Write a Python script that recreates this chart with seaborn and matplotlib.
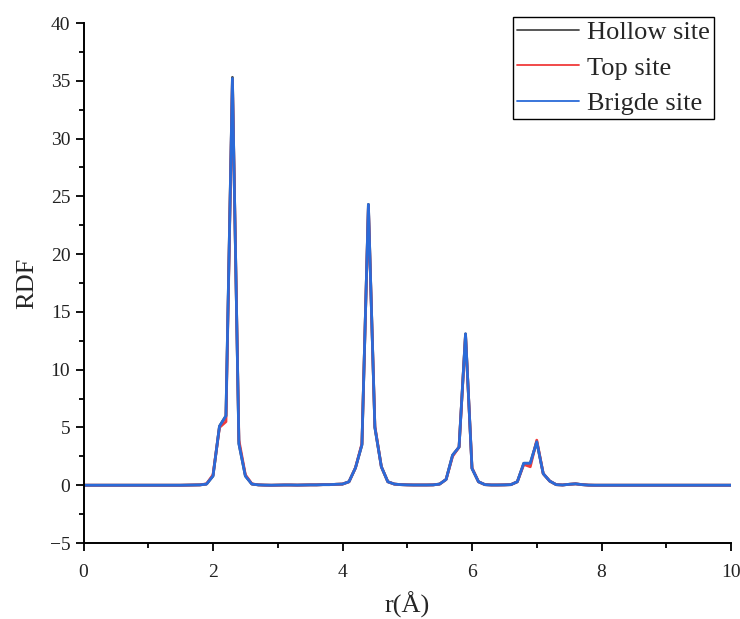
import numpy as np
import pandas as pd
import matplotlib
matplotlib.use("Agg")
import matplotlib.pyplot as plt
import seaborn as sns
from matplotlib.lines import Line2D

# r grid (Å), step 0.1
r = [round(0.1 * k, 1) for k in range(101)]

hollow = [0, 0, 0, 0, 0, 0, 0, 0, 0, 0,
          0, 0, 0, 0, 0, 0, 0.01, 0.02, 0.03, 0.1,
          0.8, 5.1, 6.0, 35.3, 3.6, 0.8, 0.1, 0.03, 0.01, 0.0,
          0.01, 0.02, 0.02, 0.01, 0.02, 0.03, 0.03, 0.05, 0.05, 0.08,
          0.1, 0.3, 1.5, 3.5, 24.3, 5.0, 1.6, 0.3, 0.1, 0.05,
          0.03, 0.02, 0.02, 0.02, 0.03, 0.1, 0.5, 2.6, 3.3, 13.1,
          1.45, 0.3, 0.05, 0.02, 0.02, 0.03, 0.05, 0.3, 1.9, 1.9,
          3.76, 1.0, 0.36, 0.05, 0.02, 0.08, 0.12, 0.05, 0.01, 0.0,
          0, 0, 0, 0, 0, 0, 0, 0, 0, 0,
          0, 0, 0, 0, 0, 0, 0, 0, 0, 0, 0]

top = [0, 0, 0, 0, 0, 0, 0, 0, 0, 0,
       0, 0, 0, 0, 0, 0, 0.01, 0.02, 0.03, 0.12,
       0.9, 5.0, 5.5, 35.0, 3.9, 0.9, 0.12, 0.03, 0.01, 0.0,
       0.01, 0.02, 0.02, 0.01, 0.02, 0.03, 0.03, 0.05, 0.05, 0.08,
       0.1, 0.3, 1.5, 3.6, 24.1, 5.1, 1.6, 0.3, 0.1, 0.05,
       0.03, 0.02, 0.02, 0.02, 0.03, 0.1, 0.5, 2.5, 3.3, 13.0,
       1.5, 0.3, 0.05, 0.02, 0.02, 0.03, 0.05, 0.3, 1.8, 1.6,
       3.9, 1.0, 0.36, 0.05, 0.02, 0.08, 0.12, 0.05, 0.01, 0.0,
       0, 0, 0, 0, 0, 0, 0, 0, 0, 0,
       0, 0, 0, 0, 0, 0, 0, 0, 0, 0, 0]

bridge = [0, 0, 0, 0, 0, 0, 0, 0, 0, 0,
          0, 0, 0, 0, 0, 0, 0.01, 0.02, 0.03, 0.1,
          0.8, 5.1, 6.0, 35.2, 3.6, 0.8, 0.1, 0.03, 0.01, 0.0,
          0.01, 0.02, 0.02, 0.01, 0.02, 0.03, 0.03, 0.05, 0.05, 0.08,
          0.1, 0.3, 1.5, 3.5, 24.3, 5.0, 1.6, 0.3, 0.1, 0.05,
          0.03, 0.02, 0.02, 0.02, 0.03, 0.1, 0.5, 2.6, 3.3, 13.1,
          1.45, 0.3, 0.05, 0.02, 0.02, 0.03, 0.05, 0.3, 1.9, 1.9,
          3.76, 1.0, 0.36, 0.05, 0.02, 0.08, 0.12, 0.05, 0.01, 0.0,
          0, 0, 0, 0, 0, 0, 0, 0, 0, 0,
          0, 0, 0, 0, 0, 0, 0, 0, 0, 0, 0]

labels = ["Hollow site", "Top site", "Brigde site"]
colors = ["#4a4a4a", "#f03a3a", "#2a6ad8"]

df = pd.concat([
    pd.DataFrame({"r": r, "RDF": vals, "site": lab})
    for vals, lab in zip([hollow, top, bridge], labels)
], ignore_index=True)

sns.set_style("ticks")
plt.rcParams["font.family"] = ["Liberation Serif", "DejaVu Serif"]

fig = plt.figure(figsize=(7.4, 6.19), dpi=100)
ax = fig.add_axes([83.5 / 740, 1 - 543 / 619, 647.5 / 740, 520 / 619])

sns.lineplot(data=df, x="r", y="RDF", hue="site", hue_order=labels,
             palette=colors, linewidth=2.0, ax=ax, legend=False)

ax.set_xlim(0, 10)
ax.set_ylim(-5, 40)
ax.set_xticks(np.arange(0, 11, 2))
ax.set_yticks(np.arange(-5, 41, 5))
ax.set_xticks(np.arange(1, 10, 2), minor=True)
ax.set_yticks(np.arange(-2.5, 40, 5), minor=True)
ax.tick_params(axis="both", which="major", direction="out", length=6, width=1.3,
               labelsize=14, color="black", labelcolor="#222222")
ax.tick_params(axis="both", which="minor", direction="out", length=3.5, width=1.3,
               color="black")
ax.tick_params(axis="x", which="major", pad=9)
for s in ["left", "bottom"]:
    ax.spines[s].set_linewidth(1.4)
    ax.spines[s].set_color("black")
for s in ["top", "right"]:
    ax.spines[s].set_visible(False)

ax.set_xlabel("r(Å)", fontsize=19, labelpad=8)
ax.set_ylabel("RDF", fontsize=19, labelpad=8)

handles = [Line2D([], [], color=c, lw=1.3) for c in colors]
leg = ax.legend(handles, labels, loc="upper right", bbox_to_anchor=(0.974, 1.012),
                fontsize=19, frameon=True, fancybox=False, framealpha=1,
                edgecolor="black", borderaxespad=0, handlelength=2.35,
                handletextpad=0.3, labelspacing=0.45, borderpad=0.15)
leg.get_frame().set_linewidth(1.0)

fig.savefig("out.png", dpi=100)
